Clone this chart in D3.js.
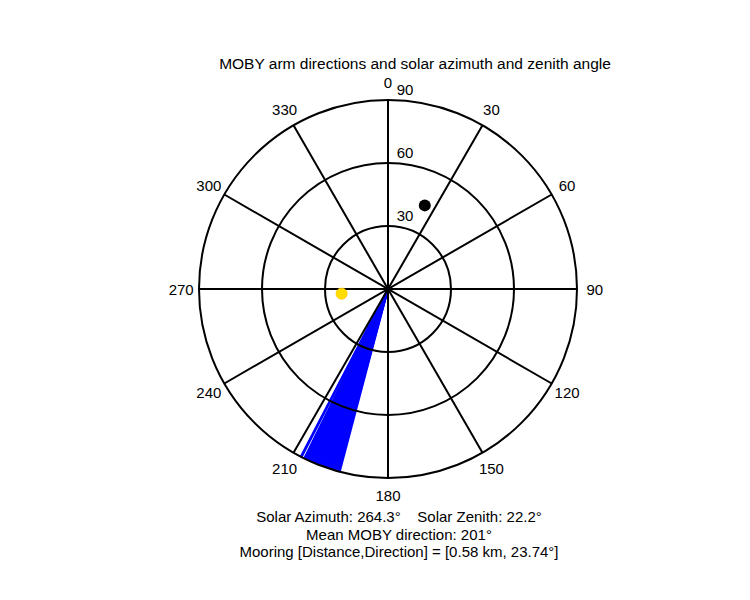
<!DOCTYPE html>
<html><head><meta charset="utf-8">
<script src="https://cdn.jsdelivr.net/npm/d3@7"></script>
<style>body{margin:0;background:#fff}text{font-family:"Liberation Sans",Arial,sans-serif;white-space:pre}</style>
</head><body><svg id="c" width="750" height="600"></svg>
<script>
const spokeAngles = [0,30,60,90,120,150,180,210,240,270,300,330];
const ringValues = [30,60,90];
const armDirections = [194.8,195.2,195.6,196.0,196.4,196.8,197.2,197.6,198.0,198.4,198.8,199.2,199.6,200.0,200.4,200.8,201.2,201.6,202.0,202.4,202.8,203.2,203.6,204.0,204.4,204.8,205.2,205.6,206.0,206.3,207.2,207.5];
const sunAz = [264.3], sunZen = [22.2];
const mooringAz = [23.74], mooringZen = [43.5];
const title = "MOBY arm directions and solar azimuth and zenith angle";
const footer = ["Solar Azimuth: 264.3\u00b0    Solar Zenith: 22.2\u00b0","Mean MOBY direction: 201\u00b0","Mooring [Distance,Direction] = [0.58 km, 23.74\u00b0]"];

const svg = d3.select("#c");
const cx=388, cy=289;
const r = d3.scaleLinear().domain([0,90]).range([0,189]);
const pt = (az, z) => [cx + r(z)*Math.sin(az*Math.PI/180), cy - r(z)*Math.cos(az*Math.PI/180)];
const g = svg.append("g");
g.append("circle").attr("cx",cx).attr("cy",cy).attr("r",r(90)).attr("fill","#fff");
g.selectAll(".arm").data(armDirections).join("line").attr("class","arm")
 .attr("x1",cx).attr("y1",cy).attr("x2",d=>pt(d,90)[0]).attr("y2",d=>pt(d,90)[1])
 .attr("stroke","#0000ff").attr("stroke-width",2);
g.selectAll(".ring").data(ringValues).join("circle").attr("cx",cx).attr("cy",cy).attr("r",d=>r(d))
 .attr("fill","none").attr("stroke","#000").attr("stroke-width",2);
g.selectAll(".spoke").data(spokeAngles.filter(a=>a<180)).join("line")
 .attr("x1",d=>pt(d,90)[0]).attr("y1",d=>pt(d,90)[1]).attr("x2",d=>pt(d+180,90)[0]).attr("y2",d=>pt(d+180,90)[1])
 .attr("stroke","#000").attr("stroke-width",2);
g.selectAll(".al").data(spokeAngles).join("text")
 .attr("x",d=>pt(d,98.5)[0]).attr("y",d=>pt(d,98.5)[1]).attr("text-anchor","middle").attr("dominant-baseline","central")
 .attr("font-size",15).text(d=>d);
g.selectAll(".rl").data(ringValues).join("text")
 .attr("x",cx+17).attr("y",d=>cy-r(d)-11).attr("text-anchor","middle").attr("dominant-baseline","central")
 .attr("font-size",15).text(d=>d);
g.selectAll(".sun").data(sunAz).join("circle").attr("cx",(d,i)=>pt(d,sunZen[i])[0]).attr("cy",(d,i)=>pt(d,sunZen[i])[1])
 .attr("r",5.5).attr("fill","#ffdd00").attr("stroke","#ffcc00");
g.selectAll(".moor").data(mooringAz).join("circle").attr("cx",(d,i)=>pt(d,mooringZen[i])[0]).attr("cy",(d,i)=>pt(d,mooringZen[i])[1])
 .attr("r",6).attr("fill","#000");
svg.append("text").attr("x",415).attr("y",69).attr("text-anchor","middle").attr("font-size",15.5).text(title);
svg.selectAll(".ft").data(footer).join("text").attr("x",399).attr("y",(d,i)=>522+i*17.5)
 .attr("text-anchor","middle").attr("font-size",15).text(d=>d);
</script></body></html>
